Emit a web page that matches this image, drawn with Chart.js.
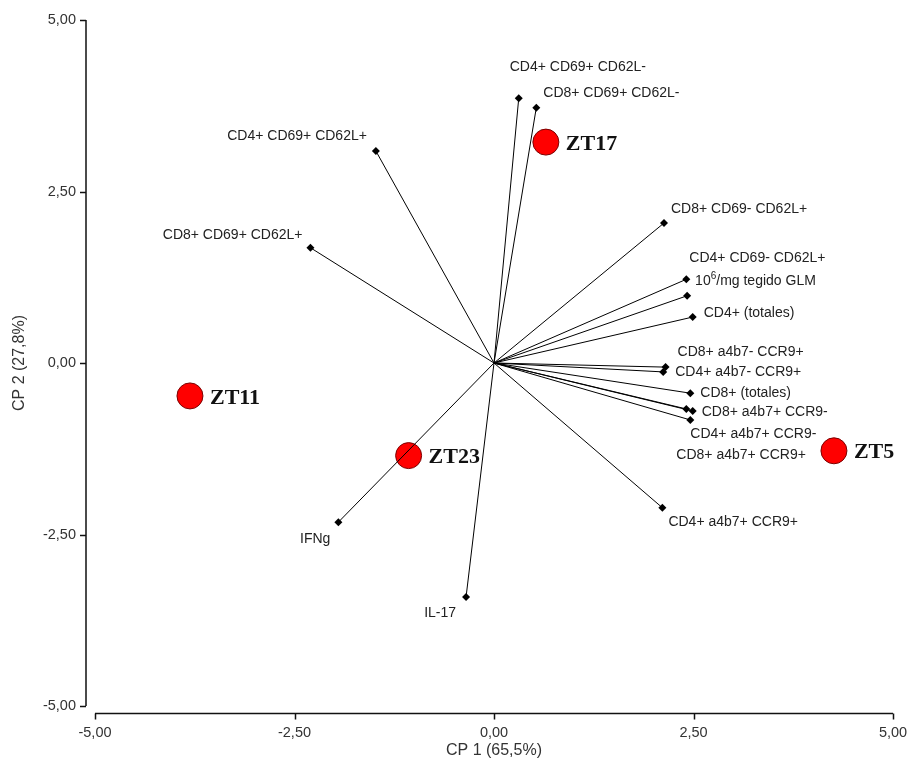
<!DOCTYPE html>
<html>
<head>
<meta charset="utf-8">
<script src="https://cdn.jsdelivr.net/npm/chart.js@4/dist/chart.umd.min.js"></script>
<style>
  html, body { margin: 0; padding: 0; background: #ffffff; }
  canvas { display: block; }
</style>
</head>
<body>
<canvas id="biplot" width="913" height="764"></canvas>
<script>
// Variable loadings (vectors from the origin)
const variableNames = [
  'CD4+ CD69+ CD62L-',
  'CD8+ CD69+ CD62L-',
  'CD4+ CD69+ CD62L+',
  'CD8+ CD69+ CD62L+',
  'CD8+ CD69- CD62L+',
  'CD4+ CD69- CD62L+',
  '10\u2076/mg tegido GLM',
  'CD4+ (totales)',
  'CD8+ a4b7- CCR9+',
  'CD4+ a4b7- CCR9+',
  'CD8+ (totales)',
  'CD8+ a4b7+ CCR9-',
  'CD4+ a4b7+ CCR9-',
  'CD8+ a4b7+ CCR9+',
  'CD4+ a4b7+ CCR9+',
  'IFNg',
  'IL-17'
];
const loadingX = [0.31, 0.53, -1.48, -2.30, 2.13, 2.41, 2.42, 2.49, 2.15, 2.12, 2.46, 2.49, 2.41, 2.46, 2.11, -1.95, -0.35];
const loadingY = [3.86, 3.72, 3.09, 1.68, 2.04, 1.22, 0.98, 0.67, -0.06, -0.13, -0.44, -0.70, -0.67, -0.83, -2.11, -2.32, -3.41];

// Sample scores
const sampleNames = ['ZT17', 'ZT11', 'ZT23', 'ZT5'];
const scoreX = [0.65, -3.81, -1.07, 4.26];
const scoreY = [3.22, -0.48, -1.35, -1.28];

// Axis ticks and titles
const tickValues = [-5, -2.5, 0, 2.5, 5];
const tickLabels = ['-5,00', '-2,50', '0,00', '2,50', '5,00'];
const xTitle = 'CP 1 (65,5%)';
const yTitle = 'CP 2 (27,8%)';

// Where each variable name sits relative to its vector tip: [textAlign, dx, dy] in px
const variableLabelPlacement = [
  ['left', -9, -31],
  ['left', 7, -15],
  ['right', -9, -15],
  ['right', -8, -13],
  ['left', 7, -14],
  ['left', 3, -21],
  ['left', 8, -15],
  ['left', 11, -4],
  ['left', 12, -15],
  ['left', 12, 0],
  ['left', 10, 0],
  ['left', 9, 1],
  ['left', 4, 25],
  ['left', -14, 35],
  ['left', 6, 14],
  ['right', -8, 17],
  ['right', -10, 16]
];

const labelFont = '14px "Liberation Sans", Arial, sans-serif';
const superFont = '10px "Liberation Sans", Arial, sans-serif';
const sampleFont = 'bold 22px "Liberation Serif", "Times New Roman", serif';
const superDigits = { '\u2070': '0', '\u00b9': '1', '\u00b2': '2', '\u00b3': '3', '\u2074': '4', '\u2075': '5', '\u2076': '6', '\u2077': '7', '\u2078': '8', '\u2079': '9' };

// One two-point line per variable: origin -> loading
const vectorDatasets = variableNames.map((name, i) => ({
  label: name,
  data: [{ x: 0, y: 0 }, { x: loadingX[i], y: loadingY[i] }],
  showLine: true,
  borderColor: '#000000',
  borderWidth: 1,
  backgroundColor: '#000000',
  pointStyle: 'rectRot',
  pointRadius: [0, 4],
  pointBorderWidth: 0,
  order: 0
}));

const scoreDataset = {
  label: 'Muestras',
  data: sampleNames.map((n, i) => ({ x: scoreX[i], y: scoreY[i] })),
  showLine: false,
  pointStyle: 'circle',
  pointRadius: 13,
  backgroundColor: '#ff0000',
  borderColor: '#7a0000',
  borderWidth: 1,
  order: 10
};

// Axis lines drawn slightly apart from the plotting area, with outward tick marks
const detachedAxes = {
  id: 'detachedAxes',
  afterDraw(chart) {
    const { ctx, chartArea, scales: { x, y } } = chart;
    const yLineX = chartArea.left - 9;
    const xLineY = chartArea.bottom + 7.5;
    ctx.save();
    ctx.strokeStyle = '#111111';
    ctx.lineWidth = 1.5;
    ctx.beginPath();
    ctx.moveTo(yLineX, y.getPixelForValue(5));
    ctx.lineTo(yLineX, y.getPixelForValue(-5));
    tickValues.forEach(v => {
      const py = Math.round(y.getPixelForValue(v)) + 0.5;
      ctx.moveTo(yLineX, py);
      ctx.lineTo(yLineX - 6, py);
    });
    ctx.moveTo(x.getPixelForValue(-5), xLineY);
    ctx.lineTo(x.getPixelForValue(5), xLineY);
    tickValues.forEach(v => {
      const px = Math.round(x.getPixelForValue(v)) + 0.5;
      ctx.moveTo(px, xLineY);
      ctx.lineTo(px, xLineY + 6);
    });
    ctx.stroke();
    ctx.restore();
  }
};

// Draws a label, raising any superscript digits
function drawRichLabel(ctx, text, x, y, align) {
  const parts = [];
  for (const ch of text) {
    const sup = superDigits[ch] !== undefined;
    const t = sup ? superDigits[ch] : ch;
    const last = parts[parts.length - 1];
    if (last && last.sup === sup) last.t += t; else parts.push({ t, sup });
  }
  const widthOf = p => { ctx.font = p.sup ? superFont : labelFont; return ctx.measureText(p.t).width; };
  const total = parts.reduce((s, p) => s + widthOf(p), 0);
  let cx = align === 'right' ? x - total : (align === 'center' ? x - total / 2 : x);
  ctx.textAlign = 'left';
  parts.forEach(p => {
    const w = widthOf(p);
    ctx.fillText(p.t, cx, p.sup ? y - 5 : y);
    cx += w;
  });
}

// Names at vector tips and sample labels beside the circles
const pointLabels = {
  id: 'pointLabels',
  afterDatasetsDraw(chart) {
    const { ctx } = chart;
    ctx.save();
    ctx.textBaseline = 'middle';
    ctx.fillStyle = '#222222';
    variableNames.forEach((name, i) => {
      const tip = chart.getDatasetMeta(i).data[1];
      const [align, dx, dy] = variableLabelPlacement[i];
      drawRichLabel(ctx, name, tip.x + dx, tip.y + dy, align);
    });
    const scoreMeta = chart.getDatasetMeta(variableNames.length);
    ctx.font = sampleFont;
    ctx.fillStyle = '#111111';
    ctx.textAlign = 'left';
    sampleNames.forEach((name, i) => {
      const p = scoreMeta.data[i];
      ctx.fillText(name, p.x + 20, p.y + 2);
    });
    ctx.restore();
  }
};

const tickFont = { family: '"Liberation Sans", Arial, sans-serif', size: 14.5 };
const titleFont = { family: '"Liberation Sans", Arial, sans-serif', size: 16 };

// Keep the plotting area fixed: no automatic edge padding from tick labels
function clearScalePadding(s) {
  s.paddingLeft = 0; s.paddingRight = 0; s.paddingTop = 0; s.paddingBottom = 0;
}

new Chart(document.getElementById('biplot'), {
  type: 'scatter',
  data: { datasets: [...vectorDatasets, scoreDataset] },
  options: {
    responsive: false,
    animation: false,
    events: [],
    layout: { padding: { top: 20, right: 20, left: 0, bottom: 0 } },
    plugins: { legend: { display: false }, tooltip: { enabled: false } },
    scales: {
      x: {
        type: 'linear',
        min: -5, max: 5,
        afterBuildTicks: s => { s.ticks = tickValues.map(v => ({ value: v })); },
        afterFit: s => { s.height = 58; clearScalePadding(s); },
        grid: { display: false, drawTicks: false },
        border: { display: false },
        ticks: {
          padding: 18,
          color: '#333333',
          font: tickFont,
          maxRotation: 0,
          callback: v => tickLabels[tickValues.indexOf(v)] ?? ''
        },
        title: { display: true, text: xTitle, color: '#333333', font: titleFont, padding: { top: 0, bottom: 4 } }
      },
      y: {
        type: 'linear',
        min: -5, max: 5,
        afterBuildTicks: s => { s.ticks = tickValues.map(v => ({ value: v })); },
        afterFit: s => { s.width = 95; clearScalePadding(s); },
        grid: { display: false, drawTicks: false },
        border: { display: false },
        ticks: {
          padding: 19,
          color: '#333333',
          font: tickFont,
          callback: v => tickLabels[tickValues.indexOf(v)] ?? ''
        },
        title: { display: true, text: yTitle, color: '#333333', font: titleFont, padding: { top: 10, bottom: 0 } }
      }
    }
  },
  plugins: [detachedAxes, pointLabels]
});
</script>
</body>
</html>
